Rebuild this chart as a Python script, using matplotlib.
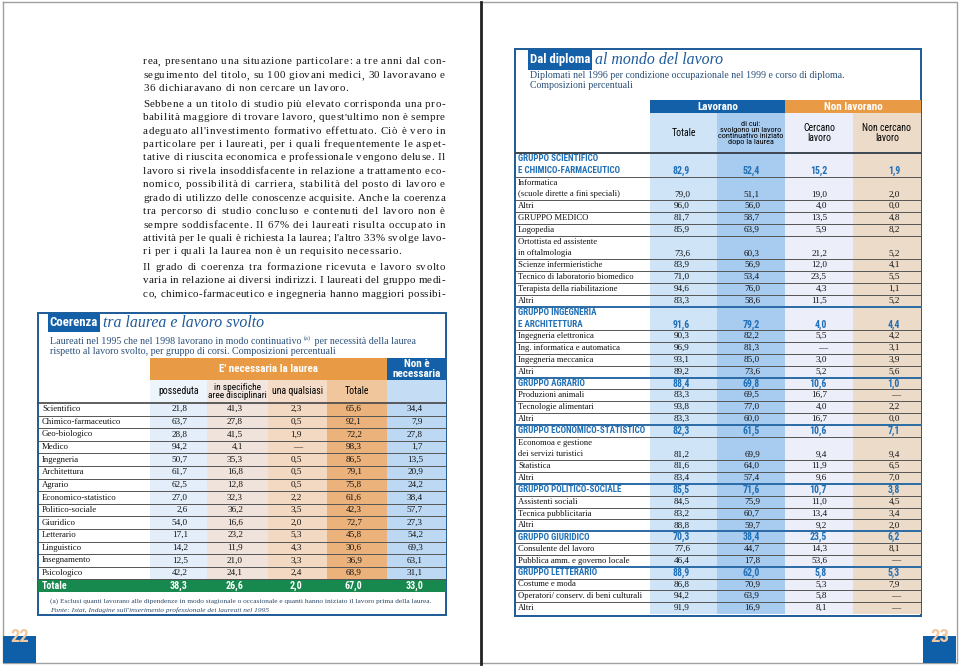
import matplotlib
matplotlib.use('Agg')
import matplotlib.pyplot as plt
from matplotlib.patches import Rectangle
from matplotlib.font_manager import FontProperties, fontManager

SERIF = ['Liberation Serif', 'DejaVu Serif']
# cerco un sans condensato se c'è, altrimenti Liberation Sans
_nomi = {f.name for f in fontManager.ttflist}
NARROW = ['Liberation Sans', 'DejaVu Sans']
for cand in ['Liberation Sans Narrow', 'Roboto Condensed', 'Open Sans Condensed', 'Arial Narrow']:
    if cand in _nomi:
        NARROW = [cand, 'DejaVu Sans']
        break

# testo della pagina di sinistra (righe come nell'originale, True = fine paragrafo)
testo = [
    ("rea, presentano una situazione particolare: a tre anni dal con-", False),
    ("seguimento del titolo, su 100 giovani medici, 30 lavoravano e", False),
    ("36 dichiaravano di non cercare un lavoro.", True),
    ("Sebbene a un titolo di studio più elevato corrisponda una pro-", False),
    ("babilità maggiore di trovare lavoro, quest'ultimo non è sempre", False),
    ("adeguato all'investimento formativo effettuato. Ciò è vero in", False),
    ("particolare per i laureati, per i quali frequentemente le aspet-", False),
    ("tative di riuscita economica e professionale vengono deluse. Il", False),
    ("lavoro si rivela insoddisfacente in relazione a trattamento eco-", False),
    ("nomico, possibilità di carriera, stabilità del posto di lavoro e", False),
    ("grado di utilizzo delle conoscenze acquisite. Anche la coerenza", False),
    ("tra percorso di studio concluso e contenuti del lavoro non è", False),
    ("sempre soddisfacente. Il 67% dei laureati risulta occupato in", False),
    ("attività per le quali è richiesta la laurea; l'altro 33% svolge lavo-", False),
    ("ri per i quali la laurea non è un requisito necessario.", True),
    ("Il grado di coerenza tra formazione ricevuta e lavoro svolto", False),
    ("varia in relazione ai diversi indirizzi. I laureati del gruppo medi-", False),
    ("co, chimico-farmaceutico e ingegneria hanno maggiori possibi-", False),
]

# tavola di sinistra: coerenza tra laurea e lavoro svolto
gruppi_corsi = ['Scientifico', 'Chimico-farmaceutico', 'Geo-biologico', 'Medico',
                'Ingegneria', 'Architettura', 'Agrario', 'Economico-statistico',
                'Politico-sociale', 'Giuridico', 'Letterario', 'Linguistico',
                'Insegnamento', 'Psicologico']
posseduta = [21.8, 63.7, 28.8, 94.2, 50.7, 61.7, 62.5, 27.0, 2.6, 54.0, 17.1, 14.2, 12.5, 42.2]
specifiche = [41.3, 27.8, 41.5, 4.1, 35.3, 16.8, 12.8, 32.3, 36.2, 16.6, 23.2, 11.9, 21.0, 24.1]
qualsiasi = [2.3, 0.5, 1.9, None, 0.5, 0.5, 0.5, 2.2, 3.5, 2.0, 5.3, 4.3, 3.3, 2.4]
totale_nec = [65.6, 92.1, 72.2, 98.3, 86.5, 79.1, 75.8, 61.6, 42.3, 72.7, 45.8, 30.6, 36.9, 68.9]
non_nec = [34.4, 7.9, 27.8, 1.7, 13.5, 20.9, 24.2, 38.4, 57.7, 27.3, 54.2, 69.3, 63.1, 31.1]
totale_riga = [38.3, 26.6, 2.0, 67.0, 33.0]
intest_sx = ['posseduta', 'in specifiche\naree disciplinari', 'una qualsiasi', 'Totale', '']

# tavola di destra: dal diploma al mondo del lavoro
corsi = ['GRUPPO SCIENTIFICO\nE CHIMICO-FARMACEUTICO', 'Informatica\n(scuole dirette a fini speciali)',
         'Altri', 'GRUPPO MEDICO', 'Logopedia', 'Ortottista ed assistente\nin oftalmologia',
         'Scienze infermieristiche', 'Tecnico di laboratorio biomedico',
         'Terapista della riabilitazione', 'Altri', 'GRUPPO INGEGNERIA\nE ARCHITETTURA',
         'Ingegneria elettronica', 'Ing. informatica e automatica', 'Ingegneria meccanica',
         'Altri', 'GRUPPO AGRARIO', 'Produzioni animali', 'Tecnologie alimentari', 'Altri',
         'GRUPPO ECONOMICO-STATISTICO', 'Economoa e gestione\ndei servizi turistici',
         'Statistica', 'Altri', 'GRUPPO POLITICO-SOCIALE', 'Assistenti sociali',
         'Tecnica pubblicitaria', 'Altri', 'GRUPPO GIURIDICO', 'Consulente del lavoro',
         'Pubblica amm. e governo locale', 'GRUPPO LETTERARIO', 'Costume e moda',
         'Operatori/ conserv. di beni culturali', 'Altri']
gruppo = [True, False, False, False, False, False, False, False, False, False, True,
          False, False, False, False, True, False, False, False, True, False, False, False,
          True, False, False, False, True, False, False, True, False, False, False]
lav_totale = [82.9, 79.0, 96.0, 81.7, 85.9, 73.6, 83.9, 71.0, 94.6, 83.3, 91.6, 90.3, 96.9,
              93.1, 89.2, 88.4, 83.3, 93.8, 83.3, 82.3, 81.2, 81.6, 83.4, 85.5, 84.5, 83.2,
              88.8, 70.3, 77.6, 46.4, 88.9, 86.8, 94.2, 91.9]
lav_continuativo = [52.4, 51.1, 56.0, 58.7, 63.9, 60.3, 56.9, 53.4, 76.0, 58.6, 79.2, 82.2,
                    81.3, 85.0, 73.6, 69.8, 69.5, 77.0, 60.0, 61.5, 69.9, 64.0, 57.4, 71.6,
                    75.9, 60.7, 59.7, 38.4, 44.7, 17.8, 62.0, 70.9, 63.9, 16.9]
cercano = [15.2, 19.0, 4.0, 13.5, 5.9, 21.2, 12.0, 23.5, 4.3, 11.5, 4.0, 5.5, None, 3.0, 5.2,
           10.6, 16.7, 4.0, 16.7, 10.6, 9.4, 11.9, 9.6, 10.7, 11.0, 13.4, 9.2, 23.5, 14.3,
           53.6, 5.8, 5.3, 5.8, 8.1]
non_cercano = [1.9, 2.0, 0.0, 4.8, 8.2, 5.2, 4.1, 5.5, 1.1, 5.2, 4.4, 4.2, 3.1, 3.9, 5.6,
               1.0, None, 2.2, 0.0, 7.1, 9.4, 6.5, 7.0, 3.8, 4.5, 3.4, 2.0, 6.2, 8.1, None,
               5.3, 7.9, None, None]
intest_dx = ['Totale', 'di cui:\nsvolgono un lavoro\ncontinuativo iniziato\ndopo la laurea',
             'Cercano\nlavoro', 'Non cercano\nlavoro']

BLU = '#1460a8'
CORNICE = '#1d5a96'
ARANCIO = '#e99a45'
VERDE = '#17884e'
BLU_GRUPPO = '#1f6fb6'
TESTO_BLU = '#2a4f7a'


def fmt(v):
    return '—' if v is None else f'{v:.1f}'.replace('.', ',')


def box(x0, y0, x1, y1, fc, ec='none', lw=0, z=1):
    ax.add_patch(Rectangle((x0, y0), x1 - x0, y1 - y0, facecolor=fc,
                           edgecolor=ec, linewidth=lw, zorder=z))


def larghezza(s, family, size, weight='normal', style='normal'):
    p = FontProperties(family=family, size=size, weight=weight, style=style)
    return max(renderer.get_text_width_height_descent(r, p, ismath=False)[0]
               for r in s.split('\n'))


def adatta(s, family, size, w, weight='normal', style='normal'):
    # riduce il corpo finché il testo sta nella larghezza w
    return min(size, size * w / larghezza(s, family, size, weight, style))


fig = plt.figure(figsize=(9.6, 6.69), dpi=100)
ax = fig.add_axes([0, 0, 1, 1])
ax.set_xlim(0, 960)
ax.set_ylim(669, 0)
ax.axis('off')
renderer = fig.canvas.get_renderer()

# pagine
ax.plot([3, 957, 957, 3, 3], [2, 2, 663, 663, 2], color='#a0a0a0', lw=1, zorder=0)
ax.plot([481, 481], [2, 664], color='#222222', lw=2, zorder=5)
for x0, num in [(3, '22'), (923, '23')]:
    box(x0, 636, x0 + 33, 663, '#0f5ea8', z=2)
    ax.text(x0 + 17, 642, num, color='#f1c9a0', family=NARROW,
            fontsize=adatta(num, NARROW, 15, 19, 'bold'),
            fontweight='bold', ha='center', va='baseline', zorder=3)

# testo giustificato, con spaziatura tra le lettere come nella stampa
x_sx, x_dx = 143, 445
prop = FontProperties(family=SERIF, size=7.9)
_cw = {}


def wc(ch):
    if ch not in _cw:
        if ch == ' ':
            _cw[ch] = renderer.get_text_width_height_descent('a a', prop, ismath=False)[0] - \
                renderer.get_text_width_height_descent('aa', prop, ismath=False)[0]
        else:
            _cw[ch] = renderer.get_text_width_height_descent(ch, prop, ismath=False)[0]
    return _cw[ch]


y = 62
for riga, fine in testo:
    nat = sum(wc(ch) for ch in riga)
    tr = min(0.55, (x_dx - x_sx - nat) / (len(riga) - 1))
    parole = riga.split(' ')
    larg = [sum(wc(ch) for ch in p) + tr * (len(p) - 1) for p in parole]
    gap = wc(' ') + 2 * tr if fine else (x_dx - x_sx - sum(larg)) / (len(parole) - 1)
    x = x_sx
    for p, w in zip(parole, larg):
        xc = x
        for ch in p:
            ax.text(xc, y, ch, fontproperties=prop, color='#161616', va='center', ha='left')
            xc += wc(ch) + tr
        x += w + gap
    y += 13.4 + (2.2 if fine else 0)

# ---------------- tavola sinistra ----------------
L0, L1 = 38, 446
cols_sx = [150, 207, 268, 327, 387, 446]
col_fc = ['#e4eefa', '#efe3dc', '#f3d8c2', '#ebb27c', '#bdd8f2']
head_fc = ['#eef4fb', '#f2e7e0', '#f4dcc8', '#f0c69d', '#c4ddf4']
top_h, r0, rh = 358, 403, 12.6
nr = len(gruppi_corsi)
y_tot = r0 + nr * rh

box(L0, 313, L1, 615, 'white', CORNICE, 1.4, z=1)
box(48, 313, 100, 332, BLU, z=2)
ax.text(74, 323, 'Coerenza', color='white', family=NARROW,
        fontsize=adatta('Coerenza', NARROW, 10, 48, 'bold'),
        fontweight='bold', ha='center', va='center', zorder=3)
ax.text(103, 323, 'tra laurea e lavoro svolto', color='#1f5a99', family=SERIF,
        fontsize=adatta('tra laurea e lavoro svolto', SERIF, 14, 162, style='italic'),
        style='italic', ha='left', va='center', zorder=3)

s1 = 'Laureati nel 1995 che nel 1998 lavorano in modo continuativo '
s2 = ' per necessità della laurea'
sub_size = adatta(s1 + '(a)' + s2, SERIF, 8, 366)
sub_prop = FontProperties(family=SERIF, size=sub_size)
ax.text(50, 341, s1, fontproperties=sub_prop, color=TESTO_BLU, va='center')
w1 = renderer.get_text_width_height_descent(s1, sub_prop, ismath=False)[0]
ax.text(50 + w1, 338.5, '(a)', family=SERIF, fontsize=4.5, color=TESTO_BLU, va='center')
ax.text(50 + w1 + 8, 341, s2, fontproperties=sub_prop, color=TESTO_BLU, va='center')
ax.text(50, 352, 'rispetto al lavoro svolto, per gruppo di corsi. Composizioni percentuali',
        fontproperties=sub_prop, color=TESTO_BLU, va='center')

box(cols_sx[0], top_h, cols_sx[4], 380, ARANCIO, z=2)
box(cols_sx[4], top_h, cols_sx[5], 380, BLU, z=2)
ax.text((cols_sx[0] + cols_sx[4]) / 2, 369, "E' necessaria la laurea", color='white',
        family=NARROW, fontsize=8, fontweight='bold', ha='center', va='center', zorder=3)
ax.text((cols_sx[4] + cols_sx[5]) / 2, 369, 'Non è\nnecessaria', color='white',
        family=NARROW, fontsize=adatta('necessaria', NARROW, 8, 52, 'bold'),
        fontweight='bold', ha='center', va='center', linespacing=0.9, zorder=3)
for i in range(5):
    box(cols_sx[i], 380, cols_sx[i + 1], r0, head_fc[i], z=2)
    box(cols_sx[i], r0, cols_sx[i + 1], y_tot, col_fc[i], z=2)
    if intest_sx[i]:
        ax.text((cols_sx[i] + cols_sx[i + 1]) / 2, 391.5, intest_sx[i], family=NARROW,
                fontsize=adatta(intest_sx[i], NARROW, 7, cols_sx[i + 1] - cols_sx[i] - 2),
                ha='center', va='center', linespacing=0.9, zorder=3)

valori_sx = [posseduta, specifiche, qualsiasi, totale_nec, non_nec]
x_val_sx = [188, 243, 302, 362, 423]
for r, nome in enumerate(gruppi_corsi):
    yc = r0 + (r + 0.5) * rh
    ax.text(42, yc, nome, family=SERIF, fontsize=6.3, color='#111111', va='center', zorder=3)
    for c in range(5):
        ax.text(x_val_sx[c], yc, fmt(valori_sx[c][r]), family=SERIF, fontsize=6.6,
                color='#111111', ha='right', va='center', zorder=3)
    ax.plot([L0, L1], [r0 + (r + 1) * rh] * 2, color='#555555', lw=0.7, zorder=4)
ax.plot([L0, L1], [r0, r0], color='#444444', lw=1.2, zorder=4)
box(L0, y_tot, L1, y_tot + 12.6, VERDE, z=3)
ax.text(42, y_tot + 6.3, 'Totale', color='white', family=NARROW, fontsize=7.2,
        fontweight='bold', va='center', zorder=4)
for c in range(5):
    ax.text(x_val_sx[c], y_tot + 6.3, fmt(totale_riga[c]), color='white', family=NARROW,
            fontsize=7.2, fontweight='bold', ha='right', va='center', zorder=4)
nota = ('(a) Esclusi quanti lavorano alle dipendenze in modo stagionale o occasionale '
        'e quanti hanno iniziato il lavoro prima della laurea.')
ax.text(50, 601, nota, family=SERIF, fontsize=adatta(nota, SERIF, 6, 386),
        color='#2d4a6a', va='center', zorder=3)
ax.text(50, 610.5, "Fonte: Istat, Indagine sull'inserimento professionale dei laureati nel 1995",
        family=SERIF, fontsize=adatta(nota, SERIF, 6, 386), style='italic',
        color='#2d4a6a', va='center', zorder=3)

# ---------------- tavola destra ----------------
R0, R1 = 515, 921
cols_dx = [650, 717, 785, 853, 921]
col_dx_fc = ['#cfe4f7', '#a8cbf0', '#eceef9', '#ecdbc9']
box(R0, 49, R1, 616, 'white', CORNICE, 1.4, z=1)
box(528, 49, 592, 70, BLU, z=2)
ax.text(560, 59.5, 'Dal diploma', color='white', family=NARROW,
        fontsize=adatta('Dal diploma', NARROW, 10, 60, 'bold'),
        fontweight='bold', ha='center', va='center', zorder=3)
ax.text(595, 60, 'al mondo del lavoro', color='#1f5a99', family=SERIF,
        fontsize=adatta('al mondo del lavoro', SERIF, 14, 128, style='italic'),
        style='italic', ha='left', va='center', zorder=3)
s3 = 'Diplomati nel 1996 per condizione occupazionale nel 1999 e corso di diploma.'
ax.text(530, 75, s3, family=SERIF, fontsize=adatta(s3, SERIF, 8, 313),
        color=TESTO_BLU, va='center')
ax.text(530, 85.5, 'Composizioni percentuali', family=SERIF,
        fontsize=adatta(s3, SERIF, 8, 313), color=TESTO_BLU, va='center')

box(cols_dx[0], 100, cols_dx[2], 113, BLU, z=2)
box(cols_dx[2], 100, cols_dx[4], 113, ARANCIO, z=2)
ax.text((cols_dx[0] + cols_dx[2]) / 2, 106.5, 'Lavorano', color='white', family=NARROW,
        fontsize=8, fontweight='bold', ha='center', va='center', zorder=3)
ax.text((cols_dx[2] + cols_dx[4]) / 2, 106.5, 'Non lavorano', color='white', family=NARROW,
        fontsize=8, fontweight='bold', ha='center', va='center', zorder=3)

d0, unit = 153, 11.82
n_unit = sum(c.count('\n') + 1 for c in corsi)
d1 = d0 + n_unit * unit
for i in range(4):
    box(cols_dx[i], 113, cols_dx[i + 1], d1, col_dx_fc[i], z=2)
    ax.text((cols_dx[i] + cols_dx[i + 1]) / 2, 133, intest_dx[i], family=NARROW,
            fontsize=adatta(intest_dx[i], NARROW, 7, cols_dx[i + 1] - cols_dx[i] - 1),
            ha='center', va='center', linespacing=0.95, zorder=3)

valori_dx = [lav_totale, lav_continuativo, cercano, non_cercano]
x_val_dx = [690, 760, 827, 900]
size_gruppo = min(adatta(c, NARROW, 7.2, 128, 'bold') for c, g in zip(corsi, gruppo) if g)
y = d0
for r, nome in enumerate(corsi):
    righe = nome.split('\n')
    top = y
    bot = y + len(righe) * unit
    if gruppo[r]:
        kw = dict(family=NARROW, fontsize=size_gruppo, fontweight='bold', color=BLU_GRUPPO)
        kv = dict(family=NARROW, fontsize=7, fontweight='bold', color=BLU_GRUPPO)
    else:
        kw = dict(family=SERIF, fontsize=6.2, color='#111111')
        kv = dict(family=SERIF, fontsize=6.6, color='#111111')
    for k, t in enumerate(righe):
        ax.text(518, top + (k + 0.5) * unit, t, va='center', zorder=3, **kw)
    for c in range(4):
        ax.text(x_val_dx[c], bot - unit / 2, fmt(valori_dx[c][r]), ha='right',
                va='center', zorder=3, **kv)
    if gruppo[r]:
        ax.plot([R0, R1], [top, top], color='#2a6aa5', lw=1.4, zorder=5)
    else:
        ax.plot([R0, R1], [top, top], color='#555555', lw=0.7, zorder=4)
    y = bot
ax.plot([R0, R1], [d0, d0], color='#444444', lw=1.2, zorder=5)

fig.savefig('out.png', dpi=100)
